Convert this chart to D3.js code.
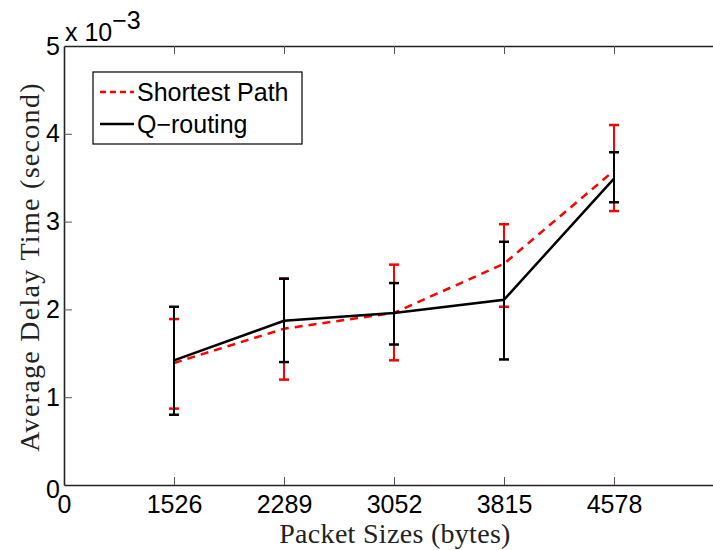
<!DOCTYPE html>
<html>
<head>
<meta charset="utf-8">
<script src="https://cdn.jsdelivr.net/npm/d3@7"></script>
<style>
  body { margin: 0; background: #fff; }
  svg { display: block; }
</style>
</head>
<body>
<div id="chart"></div>
<script>
// x categories (position 0 is the origin label)
const xLabels = ["0", "1526", "2289", "3052", "3815", "4578"];
const packetSizes = ["1526", "2289", "3052", "3815", "4578"];

// values in units of 1e-3 s
const shortestMean = [1.39, 1.78, 1.96, 2.52, 3.58];
const shortestLow  = [0.87, 1.20, 1.42, 2.03, 3.12];
const shortestHigh = [1.89, 2.35, 2.51, 2.97, 4.10];

const qMean = [1.42, 1.87, 1.96, 2.11, 3.49];
const qLow  = [0.80, 1.40, 1.60, 1.43, 3.22];
const qHigh = [2.03, 2.35, 2.30, 2.77, 3.79];

const yTicks = [0, 1, 2, 3, 4, 5];

const W = 713, H = 550;
const margin = { top: 46, left: 64 };
const plotW = 660, plotH = 439;

const svg = d3.select("#chart").append("svg")
    .attr("width", W)
    .attr("height", H);

const g = svg.append("g")
    .attr("transform", `translate(${margin.left},${margin.top})`);

const x = d3.scaleLinear().domain([0, 6]).range([0, plotW]);
const y = d3.scaleLinear().domain([0, 5]).range([plotH, 0]);

const tickFont = "'Liberation Sans', Arial, sans-serif";

// axes
const xAxis = g.append("g")
    .attr("transform", `translate(0,${plotH})`)
    .call(d3.axisBottom(x).tickValues(d3.range(0, 6)).tickFormat(i => xLabels[i])
        .tickSizeInner(-8).tickSizeOuter(0).tickPadding(10));
const xTop = g.append("g")
    .call(d3.axisTop(x).tickValues(d3.range(1, 6)).tickFormat("")
        .tickSizeInner(-8).tickSizeOuter(0));
const yAxis = g.append("g")
    .call(d3.axisLeft(y).tickValues(yTicks).tickFormat(d3.format("d"))
        .tickSizeInner(-8).tickSizeOuter(0).tickPadding(4));

[xAxis, xTop, yAxis].forEach(a => {
    a.select(".domain").attr("stroke", "#222").attr("stroke-width", 1.6);
    a.selectAll(".tick line").attr("stroke", "#555").attr("stroke-width", 1);
    a.selectAll(".tick text")
        .attr("fill", "#000")
        .style("font-family", tickFont)
        .style("font-size", "25px");
});
xAxis.selectAll(".tick text").attr("dy", "0.71em");
// hide tick mark at 0 so it doesn't overlap the y axis
xAxis.selectAll(".tick").filter(d => d === 0).select("line").remove();
yAxis.selectAll(".tick").filter(d => d === 0 || d === 5).select("line").remove();
yAxis.selectAll(".tick").filter(d => d === 0).select("text").attr("dy", "0.5em");

// series
const series = [
    { name: "Shortest Path", mean: shortestMean, low: shortestLow, high: shortestHigh, color: "#ff0000", dash: "8,6" },
    { name: "Q\u2212routing", mean: qMean, low: qLow, high: qHigh, color: "#000000", dash: null }
];

const line = d3.line()
    .x((d, i) => x(i + 1))
    .y(d => y(d));

series.forEach(s => {
    const eg = g.append("g");
    packetSizes.forEach((p, i) => {
        const cx = x(i + 1);
        eg.append("line")
            .attr("x1", cx).attr("x2", cx)
            .attr("y1", y(s.low[i])).attr("y2", y(s.high[i]))
            .attr("stroke", s.color).attr("stroke-width", 2);
        [s.low[i], s.high[i]].forEach(v => {
            eg.append("line")
                .attr("x1", cx - 5).attr("x2", cx + 5)
                .attr("y1", y(v)).attr("y2", y(v))
                .attr("stroke", s.color).attr("stroke-width", 2.5);
        });
    });
    eg.append("path")
        .datum(s.mean)
        .attr("d", line)
        .attr("fill", "none")
        .attr("stroke", s.color)
        .attr("stroke-width", 2.5)
        .attr("stroke-dasharray", s.dash);
});

// exponent label
const expo = svg.append("text")
    .attr("x", 65).attr("y", 41)
    .style("font-family", tickFont)
    .style("font-size", "25px");
expo.append("tspan").text("x 10");
expo.append("tspan").attr("dy", -12).text("\u22123");

// legend
const lg = svg.append("g").attr("transform", "translate(93,72)");
lg.append("rect")
    .attr("width", 209).attr("height", 72)
    .attr("fill", "#fff").attr("stroke", "#000").attr("stroke-width", 1.2);
series.forEach((s, i) => {
    const ly = 20 + i * 32;
    lg.append("line")
        .attr("x1", 7).attr("x2", 41)
        .attr("y1", ly).attr("y2", ly)
        .attr("stroke", s.color).attr("stroke-width", 2.5)
        .attr("stroke-dasharray", s.dash ? "6,4" : null);
    lg.append("text")
        .attr("x", 44).attr("y", ly + 9)
        .style("font-family", tickFont)
        .style("font-size", "25px")
        .text(s.name);
});

// axis titles
const serif = "'Liberation Serif', 'Times New Roman', serif";
svg.append("text")
    .attr("x", 395).attr("y", 543)
    .attr("text-anchor", "middle")
    .style("font-family", serif)
    .style("font-size", "28px")
    .style("letter-spacing", "0.3px")
    .style("fill", "#222")
    .text("Packet Sizes (bytes)");
svg.append("text")
    .attr("transform", "translate(39,267) rotate(-90)")
    .attr("text-anchor", "middle")
    .style("font-family", serif)
    .style("font-size", "28px")
    .style("letter-spacing", "1.3px")
    .style("fill", "#222")
    .text("Average Delay Time (second)");
</script>
</body>
</html>
